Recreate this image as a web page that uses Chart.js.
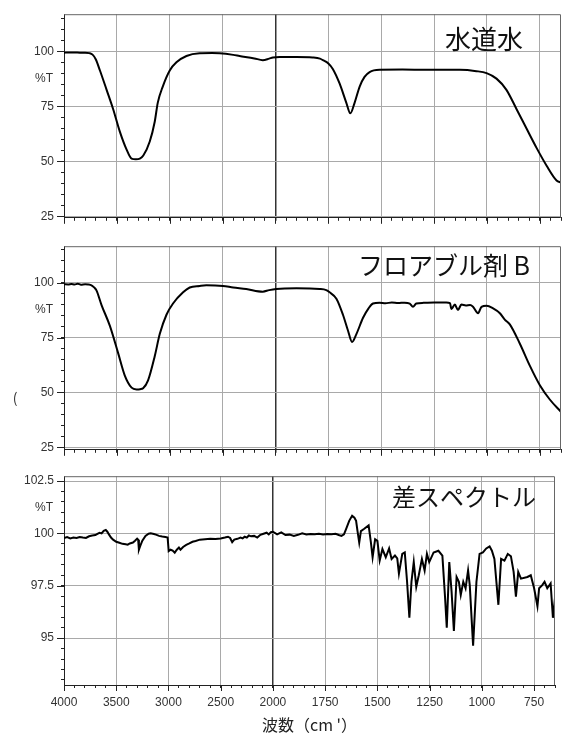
<!DOCTYPE html>
<html>
<head>
<meta charset="utf-8">
<script src="https://cdn.jsdelivr.net/npm/chart.js@4.4.1/dist/chart.umd.min.js"></script>
<style>
  html, body { margin: 0; padding: 0; background: #fff; width: 562px; height: 733px; overflow: hidden; }
  canvas { position: absolute; left: 0; }
</style>
</head>
<body>
<canvas id="tap" width="562" height="232" style="top:0px"></canvas>
<canvas id="flowable" width="562" height="232" style="top:232px"></canvas>
<canvas id="diff" width="562" height="271" style="top:462px"></canvas>
<script>
// Wavenumber tick labels (cm-1). The axis is compressed 2:1 above 2000 cm-1.
const xTickLabels = [4000, 3500, 3000, 2500, 2000, 1750, 1500, 1250, 1000, 750];
const yTicksSample = [25, 50, 75, 100];
const yTicksDiff = [95, 97.5, 100, 102.5];

// 水道水 (tap water) spectrum, %T
const tapWaterWn = [
  4000,3950,3900,3850,3800,3760,3730,3700,3660,3597,
  3535,3472,3408,3361,3320,3283,3250,3189,3142,3113,
  3066,3000,2937,2842,2717,2600,2528,2400,2340,2200,
  2120,2060,2025,1981,1900,1825,1790,1776,1750,1729,
  1697,1665,1646,1626,1602,1579,1555,1508,1400,1286,
  1129,1050,1002,955,908,860,813,765,718,671,
  650
];
const tapWaterT = [
  99.4,99.5,99.5,99.4,99.4,99.2,98.5,96.4,91.3,82.5,
  73.7,63.5,55.3,51.2,50.9,51.2,52.6,59.0,68.0,76.7,
  84.0,91.3,95.0,97.9,99.1,99.2,99.1,98.4,97.9,96.8,
  96.0,96.7,97.2,97.4,97.4,97.2,96.7,96.0,94.5,92.0,
  85.4,76.6,71.8,76.6,84.0,88.4,90.6,91.6,91.7,91.6,
  91.6,91.0,90.1,87.6,82.5,73.7,64.9,56.0,48.0,41.3,
  40.3
];

// フロアブル剤 B (flowable formulation B) spectrum, %T
const flowableWn = [
  4000,3960,3930,3900,3870,3840,3800,3770,3740,3710,
  3692,3645,3566,3488,3425,3361,3314,3280,3252,3205,
  3142,3094,3031,2969,2874,2811,2717,2654,2497,2400,
  2277,2120,2060,1997,1901,1791,1760,1744,1712,1681,
  1657,1638,1617,1586,1560,1539,1508,1480,1450,1420,
  1390,1365,1350,1334,1300,1250,1192,1175,1168,1152,
  1137,1121,1100,1080,1066,1042,1026,1002,971,939,
  916,892,845,797,750,703,655,650
];
const flowableT = [
  99.3,99.2,99.4,99.2,99.5,99.1,99.3,99.2,98.8,97.6,
  96.4,89.8,80.3,67.9,57.7,52.2,51.4,51.5,51.9,55.5,
  66.5,76.7,85.4,90.5,95.6,97.8,98.5,98.8,98.5,97.8,
  97.1,95.9,96.6,97.1,97.4,97.1,96.6,95.6,92.7,85.4,
  78.1,73.0,76.7,84.0,88.3,90.5,90.9,90.6,91.0,90.7,
  90.9,90.5,89.0,90.5,90.8,91.0,91.0,90.7,88.0,90.0,
  87.6,90.0,89.6,89.8,89.0,86.1,89.0,89.5,88.3,86.1,
  83.2,81.0,72.3,62.1,53.3,46.8,41.7,41.2
];

// 差スペクトル (difference spectrum), %T
const diffWn = [
  4000,3970,3940,3910,3880,3850,3820,3790,3760,3730,
  3700,3680,3660,3640,3620,3600,3585,3570,3550,3530,
  3500,3470,3440,3410,3390,3370,3340,3320,3300,3290,
  3283,3270,3250,3220,3190,3170,3140,3120,3090,3060,
  3030,3008,2998,2980,2960,2940,2920,2900,2885,2860,
  2830,2800,2770,2740,2700,2650,2600,2550,2500,2460,
  2430,2410,2390,2370,2340,2310,2290,2270,2250,2230,
  2210,2180,2150,2120,2090,2060,2040,2020,2000,1980,
  1960,1940,1920,1900,1880,1860,1840,1820,1800,1780,
  1760,1740,1720,1700,1685,1672,1660,1650,1635,1621,
  1610,1602,1595,1587,1579,1563,1542,1531,1523,1511,
  1500,1489,1476,1460,1444,1432,1416,1405,1397,1381,
  1369,1358,1347,1337,1326,1314,1302,1287,1274,1263,
  1252,1231,1208,1189,1176,1168,1156,1145,1134,1121,
  1110,1101,1089,1078,1066,1058,1042,1026,1011,995,
  979,963,952,940,921,908,892,876,861,848,
  837,826,813,782,766,750,734,726,711,700,
  687,671,660,650
];
const diffT = [
  99.78,99.82,99.76,99.80,99.78,99.83,99.80,99.78,99.86,99.90,
  99.92,99.98,100.03,100.00,100.12,100.16,100.08,99.95,99.80,99.70,
  99.60,99.55,99.50,99.48,99.46,99.52,99.56,99.65,99.75,99.70,
  99.22,99.40,99.65,99.88,99.98,100.00,99.97,99.94,99.88,99.85,
  99.83,99.80,99.15,99.22,99.18,99.08,99.22,99.32,99.22,99.35,
  99.45,99.52,99.60,99.64,99.70,99.72,99.74,99.73,99.76,99.80,
  99.84,99.78,99.58,99.70,99.74,99.80,99.76,99.84,99.80,99.90,
  99.86,99.88,99.80,99.93,99.98,100.03,99.95,100.06,100.08,99.95,
  100.05,99.92,99.94,99.88,99.93,100.00,99.95,99.97,99.96,99.98,
  99.95,99.97,99.96,99.98,99.92,99.88,99.95,100.20,100.60,100.84,
  100.75,100.60,100.10,99.56,100.11,100.22,100.38,99.56,98.86,99.72,
  99.64,98.70,99.25,98.86,99.28,98.78,98.94,98.81,98.08,99.02,
  99.09,97.69,95.97,97.69,98.63,97.45,98.00,98.78,98.23,99.02,
  98.63,99.09,99.17,98.94,96.91,95.50,98.63,97.22,95.34,97.92,
  97.69,97.06,97.69,97.38,98.23,97.53,94.64,97.69,99.02,99.09,
  99.28,99.38,99.17,98.78,96.59,98.78,98.70,99.02,98.91,98.16,
  96.98,98.16,97.84,97.92,98.00,97.38,96.52,97.38,97.53,97.69,
  97.38,97.61,95.97,96.91
];

// Piecewise wavenumber axis: 4000-2000 at half the density of 2000-650.
function toAxis(w) { return w >= 2000 ? (4000 - w) / 2 : 1000 + (2000 - w); }
function fromAxis(u) { return u <= 1000 ? 4000 - 2 * u : 2000 - (u - 1000); }
const majorX = xTickLabels.map(toAxis);
const breakX = toAxis(2000);
const near = (a, b) => Math.abs(a - b) < 1e-6;
const isMajorX = u => majorX.some(m => near(m, u));

const GRID = '#a9a9a9';
const AXIS = '#222';
const LABEL = '#333';
const numFont = { family: '"Liberation Sans", Arial, sans-serif', size: 12 };
const jpFamily = '"Noto Sans CJK JP", "Noto Sans", sans-serif';

// Frame lines on top/right, longer major tick marks, and free text
const panelDecor = {
  id: 'panelDecor',
  afterDraw(chart, args, opts) {
    const { ctx, chartArea: a } = chart;
    const xs = chart.scales.x, ys = chart.scales.y;
    ctx.save();
    ctx.strokeStyle = '#666';
    ctx.lineWidth = 1;
    ctx.beginPath();
    ctx.moveTo(a.left, a.top + 0.5);
    ctx.lineTo(a.right - 0.5, a.top + 0.5);
    ctx.lineTo(a.right - 0.5, a.bottom);
    ctx.stroke();

    // major tick marks reach further out than the minor ones
    ctx.strokeStyle = AXIS;
    ctx.beginPath();
    xTickLabels.forEach(w => {
      const px = Math.round(xs.getPixelForValue(toAxis(w))) + 0.5;
      ctx.moveTo(px, a.bottom);
      ctx.lineTo(px, a.bottom + 6);
    });
    opts.yTicks.forEach(v => {
      const py = Math.round(ys.getPixelForValue(v)) + 0.5;
      ctx.moveTo(a.left - 7, py);
      ctx.lineTo(a.left, py);
    });
    ctx.stroke();

    ctx.fillStyle = LABEL;
    ctx.font = '12px "Liberation Sans", Arial, sans-serif';
    ctx.textAlign = 'right';
    ctx.textBaseline = 'middle';
    ctx.fillText('%T', 53, ys.getPixelForValue(opts.unitAt));

    ctx.fillStyle = '#111';
    ctx.font = opts.nameSize + 'px ' + jpFamily;
    ctx.textAlign = 'left';
    ctx.fillText(opts.name, opts.nameX, opts.nameY);

    (opts.extra || []).forEach(t => {
      ctx.font = t.font;
      ctx.fillStyle = LABEL;
      ctx.textAlign = 'center';
      ctx.fillText(t.text, t.x, t.y);
    });
    ctx.restore();
  }
};

function makePanel(id, wn, vals, cfg) {
  const points = wn.map((w, i) => ({ x: toAxis(w), y: vals[i] }));
  const isMajorY = v => cfg.yTicks.some(t => near(t, v));
  return new Chart(document.getElementById(id), {
    type: 'line',
    data: {
      datasets: [{
        data: points,
        borderColor: '#000',
        borderWidth: 2,
        pointRadius: 0,
        fill: false,
        tension: cfg.smooth ? 0.4 : 0,
        cubicInterpolationMode: cfg.smooth ? 'monotone' : 'default'
      }]
    },
    options: {
      responsive: false,
      animation: false,
      devicePixelRatio: 1,
      layout: { padding: { top: cfg.padTop, right: 1, left: 0, bottom: 0 } },
      plugins: {
        legend: { display: false },
        tooltip: { enabled: false },
        panelDecor: Object.assign({ yTicks: cfg.yTicks }, cfg.decor)
      },
      scales: {
        x: {
          type: 'linear',
          min: 0,
          max: toAxis(650),
          grid: {
            color: c => near(c.tick.value, breakX) ? '#333' : (isMajorX(c.tick.value) ? GRID : 'rgba(0,0,0,0)'),
            lineWidth: c => near(c.tick.value, breakX) ? 1.5 : 1,
            drawTicks: true,
            tickLength: 3,
            tickColor: AXIS
          },
          border: { color: AXIS, width: 1 },
          ticks: {
            display: cfg.showX,
            stepSize: 50,
            includeBounds: false,
            autoSkip: false,
            maxRotation: 0,
            font: numFont,
            color: LABEL,
            padding: 7,
            callback: v => isMajorX(v) ? String(fromAxis(v)) : ''
          },
          title: cfg.showX ? {
            display: true,
            text: '波数（cm \'）',
            font: { family: jpFamily, size: 16, lineHeight: 1 },
            color: '#222',
            padding: { top: 0, bottom: 0 }
          } : { display: false },
          afterFit: s => { s.height = cfg.xHeight; }
        },
        y: {
          type: 'linear',
          min: cfg.yMin,
          max: cfg.yMax,
          grid: {
            color: c => isMajorY(c.tick.value) ? GRID : 'rgba(0,0,0,0)',
            drawTicks: true,
            tickLength: 3,
            tickColor: AXIS
          },
          border: { color: AXIS, width: 1 },
          ticks: {
            stepSize: cfg.yStep,
            includeBounds: false,
            autoSkip: false,
            font: numFont,
            color: LABEL,
            padding: 7,
            callback: v => isMajorY(v) ? String(v) : ''
          },
          afterFit: s => { s.width = 64; }
        }
      }
    },
    plugins: [panelDecor]
  });
}

makePanel('tap', tapWaterWn, tapWaterT, {
  smooth: true, padTop: 12, xHeight: 10, showX: false,
  yMin: 24.3, yMax: 116.9, yStep: 5, yTicks: yTicksSample,
  decor: { name: '水道水', nameX: 445, nameY: 39, nameSize: 26, unitAt: 87.5 }
});

makePanel('flowable', flowableWn, flowableT, {
  smooth: true, padTop: 10, xHeight: 10, showX: false,
  yMin: 23.9, yMax: 116.6, yStep: 5, yTicks: yTicksSample,
  decor: {
    name: 'フロアブル剤 B', nameX: 358, nameY: 33, nameSize: 25, unitAt: 87.5,
    extra: [{ text: '(', x: 15, y: 166, font: '14px ' + jpFamily }]
  }
});

makePanel('diff', diffWn, diffT, {
  smooth: false, padTop: 10, xHeight: 48, showX: true,
  yMin: 92.76, yMax: 102.73, yStep: 0.5, yTicks: yTicksDiff,
  decor: { name: '差スペクトル', nameX: 392, nameY: 35, nameSize: 24, unitAt: 101.25 }
});
</script>
</body>
</html>
